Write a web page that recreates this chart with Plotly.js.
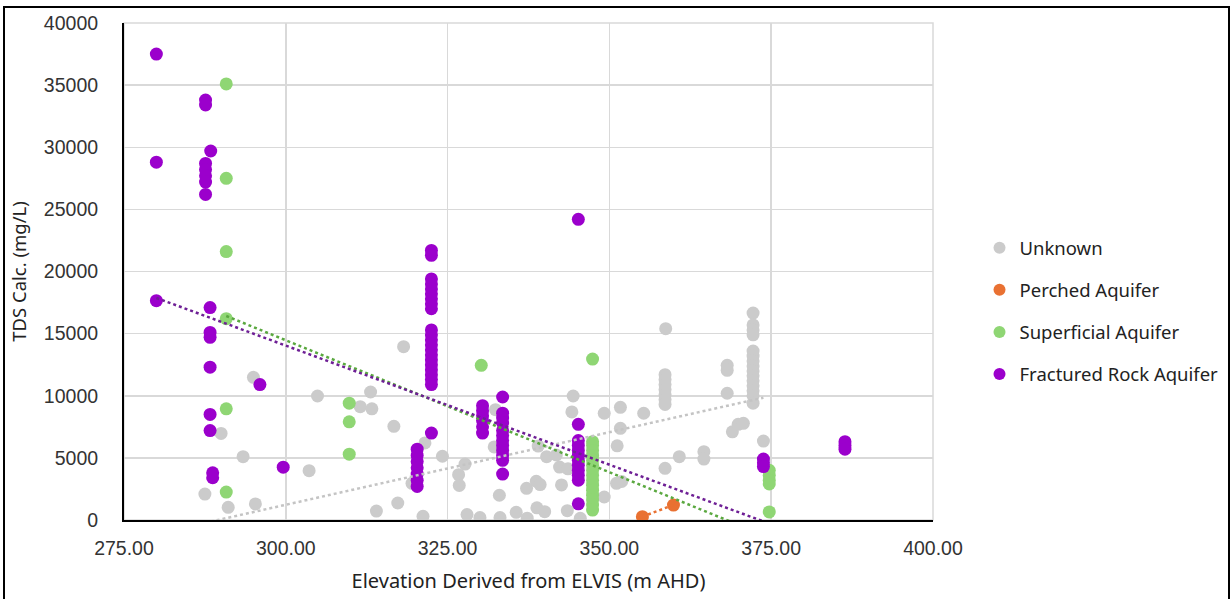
<!DOCTYPE html>
<html>
<head>
<meta charset="utf-8">
<script src="https://cdn.plot.ly/plotly-3.0.1.min.js"></script>
<style>
  html, body { margin: 0; padding: 0; background: #fff; }
  #frame { position: absolute; left: 3px; top: 6px; width: 1223px; height: 620px; border: 2px solid #000; pointer-events: none; z-index: 5; }
  #chart { position: absolute; left: 0; top: 0; width: 1231px; height: 599px; }
</style>
</head>
<body>
<div id="chart"></div>
<div id="frame"></div>
<script>
// ---- Data ----
const seriesNames = ["Unknown", "Perched Aquifer", "Superficial Aquifer", "Fractured Rock Aquifer"];

const unknownX = [287.5, 290.0, 291.1, 293.4, 295.0, 295.3, 303.6, 304.9, 311.5, 313.1, 313.3, 314.0, 316.7, 317.3, 318.2,
  319.5, 321.5, 321.2, 324.2, 326.7, 326.8, 327.7, 328.0, 330.0, 332.2, 332.4, 333.0, 333.1, 335.6, 337.2, 337.3, 338.7,
  339.3, 338.8, 340.0, 339.0, 340.3, 341.8, 342.3, 343.6, 342.6, 343.5, 344.4, 344.2, 345.5, 349.2, 349.2, 351.7, 351.7,
  351.2, 351.1, 351.9, 355.3, 358.7, 358.6, 358.6, 358.6, 358.6, 358.6, 358.6, 358.6, 358.6, 360.8, 364.6, 364.6,
  368.2, 368.2, 368.2, 369.0, 369.9, 370.7, 372.2, 372.2, 372.2, 372.2, 372.2, 372.2, 372.2, 372.2, 372.2, 372.2,
  372.2, 372.2, 372.2, 372.2, 372.2, 373.8, 347.4];
const unknownY = [2090, 6970, 1020, 5100, 11480, 1290, 3970, 9980, 9120, 10300, 8950, 720, 7540, 1370, 13950,
  2950, 6200, 300, 5130, 3650, 2780, 4500, 440, 200, 5880, 8880, 1990, 200, 620, 2550, 150, 3120,
  2850, 980, 670, 5950, 5100, 5230, 4260, 4120, 2820, 750, 9980, 8700, 140, 8590, 1850, 9070, 7380,
  5970, 2950, 3100, 8590, 15400, 11700, 11300, 10900, 10500, 10100, 9700, 9300, 4160, 5100, 5500, 4900,
  12450, 12050, 10200, 7100, 7700, 7780, 16650, 15700, 15300, 14900, 13600, 13200, 12800, 12400, 12000, 11600,
  11200, 10800, 10400, 10000, 9400, 6350, 5150];

const perchedX = [355.1, 359.9];
const perchedY = [270, 1200];

const superficialX = [290.8, 290.8, 290.8, 290.8, 290.8, 290.8, 309.8, 309.8, 309.8, 330.2,
  347.4, 347.4, 347.4, 347.4, 347.4, 347.4, 347.4, 347.4, 347.4, 347.4, 347.4, 347.4, 347.4, 347.4, 347.4, 347.4,
  374.7, 374.7, 374.7, 374.7, 374.7];
const superficialY = [35100, 27500, 21600, 16200, 8950, 2250, 9400, 7900, 5300, 12450,
  12950, 6300, 6000, 5600, 5200, 4800, 4400, 4000, 3600, 3200, 2800, 2400, 2000, 1600, 1200, 800,
  4000, 3600, 3200, 2900, 650];

const fracturedX = [280.0, 280.0, 280.0, 287.6, 287.6, 287.6, 287.6, 287.6, 287.6, 287.6, 288.4,
  288.3, 288.3, 288.3, 288.3, 288.3, 288.3, 288.7, 288.7, 296.0, 299.6,
  322.5, 322.5, 322.5, 322.5, 322.5, 322.5, 322.5, 322.5, 322.5, 322.5, 322.5, 322.5, 322.5, 322.5, 322.5,
  322.5, 322.5, 322.5, 322.5, 322.5, 322.5, 322.5,
  320.3, 320.3, 320.3, 320.3, 320.3, 320.3, 320.3,
  330.4, 330.4, 330.4, 330.4, 330.4, 330.4,
  333.5, 333.5, 333.5, 333.5, 333.5, 333.5, 333.5, 333.5, 333.5, 333.5, 333.5, 333.5,
  345.2, 345.2, 345.2, 345.2, 345.2, 345.2, 345.2, 345.2, 345.2, 345.2, 345.2, 345.2,
  373.8, 373.8, 373.8, 386.4, 386.4, 386.4];
const fracturedY = [37500, 28800, 17650, 33800, 33400, 28700, 28200, 27700, 27200, 26200, 29700,
  17100, 15100, 14700, 12300, 8500, 7200, 3800, 3400, 10900, 4250,
  21700, 21300, 19400, 19000, 18600, 18200, 17800, 17400, 17000, 15300, 14900, 14500, 14100, 13700, 13300,
  12900, 12500, 12100, 11700, 11300, 10900, 7000,
  5700, 5200, 4700, 4200, 3700, 3200, 2700,
  9200, 8800, 8400, 8000, 7500, 7000,
  9900, 8600, 8200, 7800, 7200, 6800, 6400, 6000, 5600, 5200, 4800, 3700,
  24200, 7700, 6400, 6000, 5600, 5200, 4800, 4400, 4000, 3600, 3200, 1300,
  4900, 4600, 4300, 6300, 6000, 5700];

// Linear trendline coefficients (y = slope*x + intercept)
const trendSlopes = [116.8, 195.8, -212.4, -191.7];
const trendIntercepts = [-33814, -69259, 78186, 71546];

const xTickVals = [275, 300, 325, 350, 375, 400];
const yTickVals = [0, 5000, 10000, 15000, 20000, 25000, 30000, 35000, 40000];

// ---- Styles ----
const markerColors = ["#cbcbcb", "#e97132", "#8fd674", "#9b00cc"];
const trendColors = ["#c4c4c4", "#e97132", "#5aa83f", "#6e1f95"];

const allX = [unknownX, perchedX, superficialX, fracturedX];
const allY = [unknownY, perchedY, superficialY, fracturedY];

const traces = [];
for (let i = 0; i < 4; i++) {
  traces.push({
    type: "scatter", mode: "markers", name: seriesNames[i],
    x: allX[i], y: allY[i],
    legendgroup: "g" + i,
    marker: { color: markerColors[i], size: 13, line: { width: 0 } },
    hoverinfo: "x+y+name"
  });
}
for (let i = 0; i < 4; i++) {
  const xs = allX[i];
  const x0 = Math.min.apply(null, xs), x1 = Math.max.apply(null, xs);
  const tx = [x0, x1];
  const ty = tx.map(v => trendSlopes[i] * v + trendIntercepts[i]);
  traces.push({
    type: "scatter", mode: "lines", x: tx, y: ty, showlegend: false, hoverinfo: "skip",
    line: { color: trendColors[i], width: 2.5, dash: "dot" }
  });
}

const layout = {
  width: 1231, height: 599,
  margin: { l: 124, r: 298, t: 23, b: 79, pad: 0, autoexpand: false },
  paper_bgcolor: "#ffffff", plot_bgcolor: "#ffffff",
  showlegend: true,
  legend: {
    x: 1.0575, xanchor: "left", y: 0.42, yanchor: "middle",
    font: { family: "Noto Sans, sans-serif", size: 18.5, color: "#222" },
    itemsizing: "constant", traceorder: "grouped", tracegroupgap: 15,
    bgcolor: "rgba(0,0,0,0)"
  },
  shapes: [
    { type: "rect", xref: "paper", yref: "paper", x0: 0, x1: 1, y0: 0, y1: 1,
      line: { color: "#d9d9d9", width: 1.5 }, layer: "below" }
  ],
  xaxis: {
    range: [275, 400], tickvals: xTickVals, tickformat: ".2f",
    showgrid: true, gridcolor: "#d9d9d9", gridwidth: 1.5,
    zeroline: false, showline: true, linecolor: "#000", linewidth: 2,
    ticks: "", ticklabelstandoff: 10, automargin: false,
    tickfont: { family: "Liberation Sans, Arial, sans-serif", size: 19.5, color: "#333" },
    title: { text: "Elevation Derived from ELVIS (m AHD)", standoff: 16,
      font: { family: "Noto Sans, sans-serif", size: 20, color: "#222" } }
  },
  yaxis: {
    range: [0, 40000], tickvals: yTickVals, tickformat: "d",
    showgrid: true, gridcolor: "#d9d9d9", gridwidth: 1.5,
    zeroline: false, showline: true, linecolor: "#000", linewidth: 2,
    ticks: "", ticklabelstandoff: 20, automargin: false,
    tickfont: { family: "Liberation Sans, Arial, sans-serif", size: 19.5, color: "#333" },
    title: { text: "TDS Calc. (mg/L)", standoff: 12,
      font: { family: "Noto Sans, sans-serif", size: 18.5, color: "#222" } }
  }
};

Plotly.newPlot("chart", traces, layout, { displayModeBar: false, staticPlot: true });
</script>
</body>
</html>
